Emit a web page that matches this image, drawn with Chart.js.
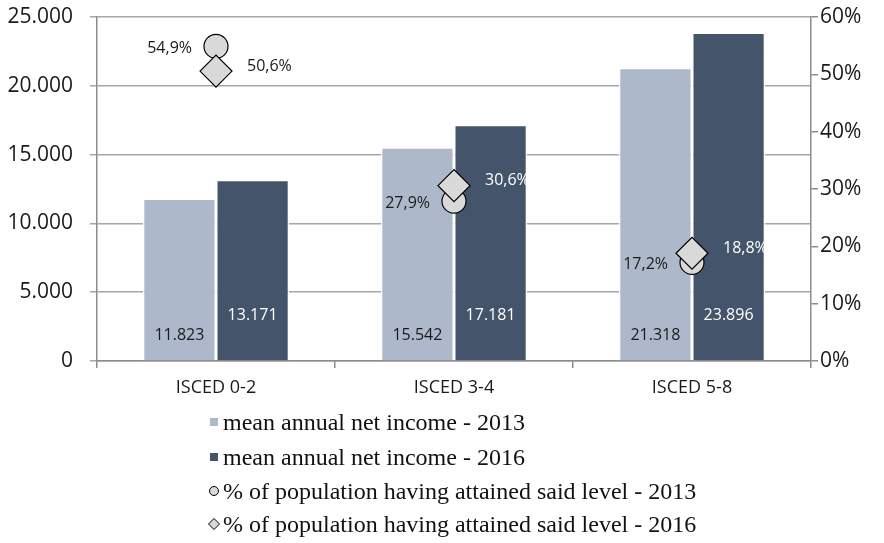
<!DOCTYPE html>
<html>
<head>
<meta charset="utf-8">
<script src="https://cdn.jsdelivr.net/npm/chart.js@4/dist/chart.umd.min.js"></script>
<style>
  html, body { margin: 0; padding: 0; background: #fff; }
  #wrap { width: 884px; height: 543px; }
</style>
</head>
<body>
<div id="wrap"><canvas id="incomeChart" width="884" height="543"></canvas></div>
<script>
// categories and values
const categories = ['ISCED 0-2', 'ISCED 3-4', 'ISCED 5-8'];
const income2013 = [11823, 15542, 21318];
const income2016 = [13171, 17181, 23896];
const share2013 = [54.9, 27.9, 17.2];
const share2016 = [50.6, 30.6, 18.8];
const leftTicks = [0, 5000, 10000, 15000, 20000, 25000];
const rightTicks = [0, 10, 20, 30, 40, 50, 60];

const LIGHT = '#ADB9CA';
const DARK = '#44546A';
const MARK = '#D9D9D9';
const TXT = '#1a1a1a';
const SANS = '"Open Sans", sans-serif';

function fmtNum(n) {
  return String(n).replace(/\B(?=(\d{3})+(?!\d))/g, '.');
}
function fmtPct(v) {
  return v.toFixed(1).replace('.', ',') + '%';
}

// value labels drawn on top of bars and markers
const valueLabels = {
  id: 'valueLabels',
  afterDatasetsDraw(chart) {
    const ctx = chart.ctx;
    ctx.save();
    ctx.font = '16px ' + SANS;
    ctx.textBaseline = 'middle';
    const base = chart.scales.y.getPixelForValue(0);

    // bar labels
    [[0, TXT, 26], [1, '#ffffff', 46]].forEach(([di, col, up]) => {
      const meta = chart.getDatasetMeta(di);
      ctx.fillStyle = col;
      ctx.textAlign = 'center';
      meta.data.forEach((bar, i) => {
        ctx.fillText(fmtNum(chart.data.datasets[di].data[i]), bar.x, base - up);
      });
    });

    // marker labels: 2013 left of the circle, 2016 right of the diamond
    const darkBars = chart.getDatasetMeta(1).data;
    const m13 = chart.getDatasetMeta(2).data;
    m13.forEach((p, i) => {
      ctx.fillStyle = TXT;
      ctx.textAlign = 'right';
      ctx.fillText(fmtPct(chart.data.datasets[2].data[i]), p.x - 24, p.y + 2);
    });
    const m16 = chart.getDatasetMeta(3).data;
    m16.forEach((p, i) => {
      const y = p.y - 5;
      ctx.fillStyle = y > darkBars[i].y ? '#ffffff' : TXT;
      ctx.textAlign = 'left';
      ctx.fillText(fmtPct(chart.data.datasets[3].data[i]), p.x + 31, y);
    });
    ctx.restore();
  }
};

// legend: one entry per line under the axis
const stackedLegend = {
  id: 'stackedLegend',
  afterDraw(chart) {
    const ctx = chart.ctx;
    ctx.save();
    ctx.font = '24px "Liberation Serif", "Times New Roman", serif';
    ctx.textBaseline = 'middle';
    ctx.textAlign = 'left';
    const x0 = 214, tx = 223;
    const rows = [422, 457, 491, 524];
    chart.data.datasets.forEach((ds, i) => {
      const y = rows[i];
      if (ds.type === 'bar') {
        ctx.fillStyle = ds.backgroundColor;
        ctx.fillRect(x0 - 4, y - 4, 8, 8);
      } else if (ds.pointStyle === 'circle') {
        ctx.beginPath();
        ctx.arc(x0, y, 4.5, 0, Math.PI * 2);
        ctx.fillStyle = MARK; ctx.fill();
        ctx.strokeStyle = '#000'; ctx.lineWidth = 1; ctx.stroke();
      } else {
        ctx.beginPath();
        ctx.moveTo(x0, y - 5.5); ctx.lineTo(x0 + 5.5, y);
        ctx.lineTo(x0, y + 5.5); ctx.lineTo(x0 - 5.5, y); ctx.closePath();
        ctx.fillStyle = MARK; ctx.fill();
        ctx.strokeStyle = '#000'; ctx.lineWidth = 1; ctx.stroke();
      }
      ctx.fillStyle = '#111';
      ctx.fillText(ds.label, tx, y + 2);
    });
    ctx.restore();
  }
};

function fixWidth(w) {
  return s => { s.width = w; s.paddingTop = 0; s.paddingBottom = 0; };
}

const ctx = document.getElementById('incomeChart').getContext('2d');
const chart = new Chart(ctx, {
  data: {
    labels: categories,
    datasets: [
      {
        type: 'bar',
        label: 'mean annual net income - 2013',
        data: income2013,
        backgroundColor: LIGHT,
        borderColor: '#ffffff',
        borderWidth: 1.5,
        yAxisID: 'y',
        order: 2,
        barPercentage: 1.0,
        categoryPercentage: 0.615
      },
      {
        type: 'bar',
        label: 'mean annual net income - 2016',
        data: income2016,
        backgroundColor: DARK,
        borderColor: '#ffffff',
        borderWidth: 1.5,
        yAxisID: 'y',
        order: 3,
        barPercentage: 1.0,
        categoryPercentage: 0.615
      },
      {
        type: 'line',
        label: '% of population having attained said level - 2013',
        data: share2013,
        showLine: false,
        pointStyle: 'circle',
        pointRadius: 12,
        pointHoverRadius: 12,
        pointBackgroundColor: MARK,
        pointBorderColor: '#000',
        pointBorderWidth: 1.2,
        yAxisID: 'y1',
        order: 1
      },
      {
        type: 'line',
        label: '% of population having attained said level - 2016',
        data: share2016,
        showLine: false,
        pointStyle: 'rectRot',
        pointRadius: 16,
        pointHoverRadius: 16,
        pointBackgroundColor: MARK,
        pointBorderColor: '#000',
        pointBorderWidth: 1.2,
        yAxisID: 'y1',
        order: 0
      }
    ]
  },
  options: {
    responsive: false,
    animation: false,
    events: [],
    layout: { padding: { top: 15, right: 0, bottom: 150, left: 0 } },
    plugins: {
      legend: { display: false },
      tooltip: { enabled: false }
    },
    scales: {
      x: {
        offset: true,
        grid: { drawOnChartArea: false, drawTicks: true, tickLength: 7, color: '#8c8c8c', lineWidth: 1.5 },
        border: { color: '#8c8c8c', width: 1.5 },
        ticks: { font: { family: SANS, size: 18 }, color: TXT, padding: 9 },
        afterFit(s) { s.height = 32; }
      },
      y: {
        position: 'left',
        min: 0,
        max: 25000,
        afterBuildTicks(s) { s.ticks = leftTicks.map(v => ({ value: v })); },
        grid: { color: '#a6a6a6', lineWidth: 1.5, tickLength: 7 },
        border: { color: '#8c8c8c', width: 1.5 },
        ticks: { font: { family: SANS, size: 21 }, color: TXT, padding: 17, callback: v => fmtNum(v) },
        afterFit: fixWidth(97)
      },
      y1: {
        position: 'right',
        min: 0,
        max: 60,
        afterBuildTicks(s) { s.ticks = rightTicks.map(v => ({ value: v })); },
        grid: { drawOnChartArea: false, color: '#8c8c8c', lineWidth: 1.5, tickLength: 7 },
        border: { color: '#8c8c8c', width: 1.5 },
        ticks: { font: { family: SANS, size: 21 }, color: TXT, padding: 2, callback: v => v + '%' },
        afterFit: fixWidth(73)
      }
    }
  },
  plugins: [valueLabels, stackedLegend]
});
</script>
</body>
</html>
